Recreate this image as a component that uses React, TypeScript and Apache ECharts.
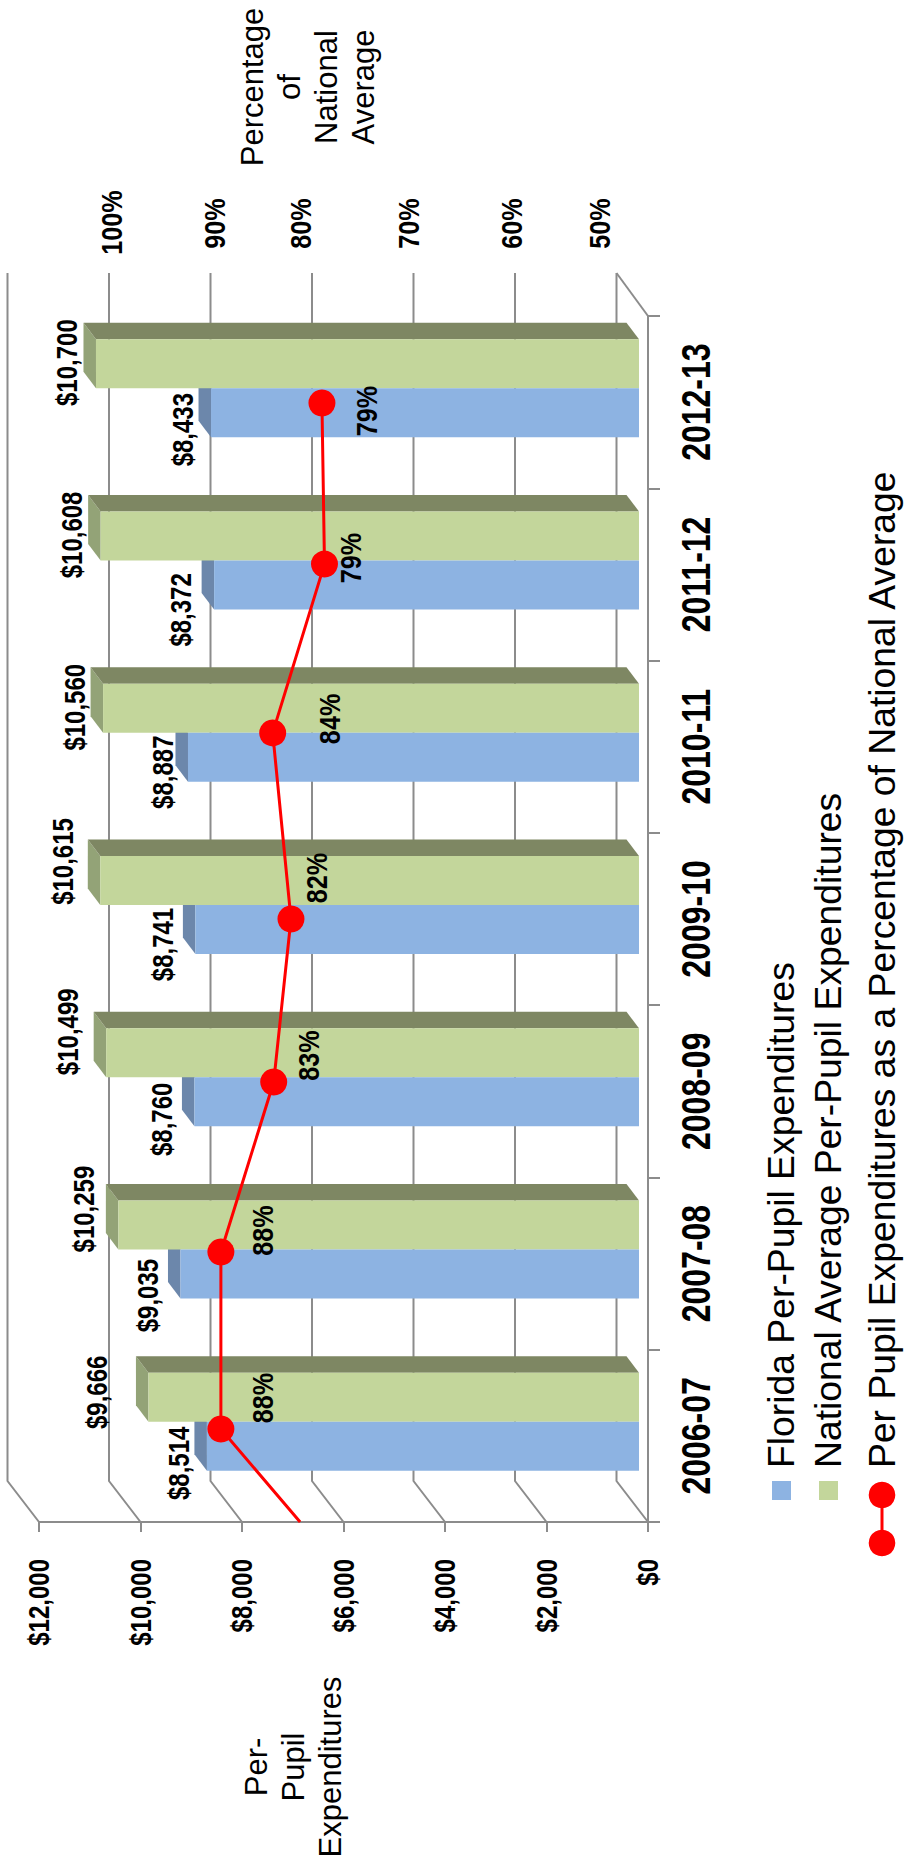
import React, { useEffect, useRef } from "react";
import * as echarts from "echarts";

const categories = ["2006-07", "2007-08", "2008-09", "2009-10", "2010-11", "2011-12", "2012-13"];
const floridaValues = [8514, 9035, 8760, 8741, 8887, 8372, 8433];
const nationalValues = [9666, 10259, 10499, 10615, 10560, 10608, 10700];
const percentLabels = ["88%", "88%", "83%", "82%", "84%", "79%", "79%"];
// the red line as drawn in the picture: percent scale reading, position along the years
const linePercent = [81.2, 89, 89, 83.8, 82.1, 83.9, 78.8, 79.05];
const linePosition = [0, 0.54, 1.567, 2.554, 3.5, 4.58, 5.56, 6.495];
const dollarTicks = [0, 2000, 4000, 6000, 8000, 10000, 12000];
const percentTicks = [100, 90, 80, 70, 60, 50];
const legendNames = [
  "Florida Per-Pupil Expenditures",
  "National Average Per-Pupil Expenditures",
  "Per Pupil Expenditures as a Percentage of National Average",
];

// layout only: hand-placed label nudges and text anchors
const nationalGap = [39, 22, 26.6, 25.7, 16.5, 16.6, 16.5];
const nationalDy = [-5, -16, -21, -19, -1, -1, -1];
const floridaGap = [15.5, 20, 20, 20, 13, 21.4, 16];
const floridaDy = [17, 21.5, 17.5, 15, 15, 25, 17];
const percentNudge = [[41.5, -31], [42, -21.5], [35, -26.5], [26, -41], [57, -14], [26, -6], [45, 8]];
const percentTickDx = [2.2, 3.6, -11.5, -5.4, -4.2, -17];
const percentTickY = [222.5, 223.5, 223.5, 223.5, 223.5, 223.5];

const GRID = "#8c8c8c";
const BLUE = "#8db3e2";
const GREEN = "#c3d69b";
const RED = "#ff0000";
const SANS = "'Liberation Sans', Arial, sans-serif";
const DX = 12.5;
const DY = 16.5;
const HALF = 49;

const vText = (
  text: string,
  x: number,
  y: number,
  size: number,
  weight: string,
  align: string,
  squeeze = 1,
  extra: any = {}
) => ({
  type: "text",
  x,
  y,
  rotation: Math.PI / 2,
  scaleX: squeeze,
  silent: true,
  style: {
    text,
    font: `${weight} ${size}px ${SANS}`,
    fill: "#000",
    align,
    textAlign: align,
    verticalAlign: "middle",
    textVerticalAlign: "middle",
    ...extra,
  },
});

const money = (v: number) => "$" + v.toLocaleString("en-US");

const depth = (side: "florida" | "national") => (_: any, api: any) => {
  const [x, yc] = api.coord([api.value(0), api.value(1)]);
  const [x0] = api.coord([0, api.value(1)]);
  const yTop = side === "national" ? yc - HALF : yc;
  const yBot = side === "national" ? yc : yc + HALF;
  const children: any[] = [
    {
      type: "polygon",
      shape: { points: [[x, yTop], [x - DX, yTop - DY], [x - DX, yBot - DY], [x, yBot]] },
      style: { fill: side === "national" ? "#93a377" : "#6c87ab" },
    },
  ];
  if (side === "national") {
    children.push({
      type: "polygon",
      shape: { points: [[x, yTop], [x - DX, yTop - DY], [x0 - DX, yTop - DY], [x0, yTop]] },
      style: { fill: "#7e8763" },
    });
  }
  return { type: "group", children };
};

const wallLines = (_: any, api: any) => {
  const v = api.value(0);
  const [x] = api.coord([v, 0]);
  const style = { stroke: GRID, lineWidth: 2, fill: "none" };
  const children: any[] = [
    { type: "polyline", shape: { points: [[x - 31.5, 273], [x - 31.5, 1481], [x, 1522]] }, style },
  ];
  if (v === 0) {
    children.push({ type: "polyline", shape: { points: [[x - 31.5, 273], [x, 316]] }, style });
  }
  return { type: "group", children };
};

const barLabels = (shift: number, gaps: number[], dys: number[]) => (params: any, api: any) => {
  const i = api.value(1);
  const v = api.value(0);
  const [x, yc] = api.coord([v, i]);
  return vText(money(v), x - DX - gaps[i], yc + shift + dys[i], 30, "bold", "center", 0.8);
};

const valueTickLabels = (_: any, api: any) => {
  const v = api.value(0);
  const [x] = api.coord([v, 0]);
  return vText(money(v), x, 1559, 30, "bold", "right", 0.8);
};

const categoryLabels = (_: any, api: any) => {
  const i = api.value(1);
  const [, y] = api.coord([0, i]);
  return vText(categories[i], 696, y, 40, "bold", "center", 0.8);
};

// marks of the percentage scale: kind 0 = label beside a point, kind 1 = tick label above the wall
const percentMarks = (_: any, api: any) => {
  const i = api.value(2);
  const [x, y] = api.coord([api.value(0), api.value(1)]);
  if (api.value(3) === 1) {
    return vText(api.value(0) + "%", x + percentTickDx[i], percentTickY[i], 30, "bold", "center", 0.84);
  }
  return vText(percentLabels[i], x + percentNudge[i][0], y + percentNudge[i][1], 30, "bold", "center", 0.84);
};

export default function App() {
  const ref = useRef<HTMLDivElement>(null);
  useEffect(() => {
    document.body.style.margin = "0";
    const chart = echarts.init(ref.current!, null, { renderer: "svg" });
    const hiddenX = { type: "value", inverse: true, show: false };
    chart.setOption({
      animation: false,
      backgroundColor: "#fff",
      grid: [
        { left: 39, width: 609, top: 316, height: 1206 },
        { left: 30, width: 609, top: 302, height: 1206 },
        { left: 7.6, width: 609.4, top: 316, height: 1206 },
      ],
      xAxis: [
        {
          type: "value",
          gridIndex: 0,
          inverse: true,
          position: "bottom",
          min: 0,
          max: 12000,
          interval: 2000,
          splitLine: { show: false },
          axisLine: { show: true, onZero: false, lineStyle: { color: GRID, width: 2 } },
          axisTick: { show: true, length: 10, lineStyle: { color: GRID, width: 2 } },
          axisLabel: { show: false },
        },
        { ...hiddenX, gridIndex: 1, min: 0, max: 12000 },
        { ...hiddenX, gridIndex: 2, min: 50, max: 110 },
      ],
      yAxis: [
        {
          type: "category",
          gridIndex: 0,
          position: "right",
          data: categories,
          axisLine: { show: true, onZero: false, lineStyle: { color: GRID, width: 2 } },
          axisTick: { show: true, length: 12, lineStyle: { color: GRID, width: 2 } },
          axisLabel: { show: false },
        },
        { type: "category", gridIndex: 1, show: false, data: categories },
        { type: "value", gridIndex: 2, show: false, min: 0, max: 7 },
      ],
      series: [
        {
          type: "custom",
          name: "Walls",
          silent: true,
          xAxisIndex: 0,
          yAxisIndex: 0,
          z: 1,
          data: dollarTicks.map((v) => [v, 0]),
          renderItem: wallLines,
        },
        {
          type: "custom",
          name: "Value tick labels",
          silent: true,
          xAxisIndex: 0,
          yAxisIndex: 0,
          z: 6,
          data: dollarTicks.map((v) => [v, 0]),
          renderItem: valueTickLabels,
        },
        {
          type: "custom",
          name: "Category labels",
          silent: true,
          xAxisIndex: 0,
          yAxisIndex: 0,
          z: 6,
          data: categories.map((_, i) => [0, i]),
          renderItem: categoryLabels,
        },
        {
          type: "custom",
          name: "Florida depth",
          silent: true,
          xAxisIndex: 1,
          yAxisIndex: 1,
          z: 2,
          data: floridaValues.map((v, i) => [v, i]),
          renderItem: depth("florida"),
        },
        {
          type: "custom",
          name: "National depth",
          silent: true,
          xAxisIndex: 1,
          yAxisIndex: 1,
          z: 2,
          data: nationalValues.map((v, i) => [v, i]),
          renderItem: depth("national"),
        },
        {
          type: "bar",
          name: legendNames[1],
          xAxisIndex: 1,
          yAxisIndex: 1,
          z: 3,
          barWidth: HALF,
          barGap: 0,
          itemStyle: { color: GREEN },
          data: nationalValues,
        },
        {
          type: "bar",
          name: legendNames[0],
          xAxisIndex: 1,
          yAxisIndex: 1,
          z: 3,
          barWidth: HALF,
          barGap: 0,
          itemStyle: { color: BLUE },
          data: floridaValues,
        },
        {
          type: "custom",
          name: "Florida labels",
          silent: true,
          xAxisIndex: 1,
          yAxisIndex: 1,
          z: 6,
          data: floridaValues.map((v, i) => [v, i]),
          renderItem: barLabels(HALF / 2, floridaGap, floridaDy),
        },
        {
          type: "custom",
          name: "National labels",
          silent: true,
          xAxisIndex: 1,
          yAxisIndex: 1,
          z: 6,
          data: nationalValues.map((v, i) => [v, i]),
          renderItem: barLabels(-HALF / 2, nationalGap, nationalDy),
        },
        {
          type: "line",
          name: legendNames[2],
          xAxisIndex: 2,
          yAxisIndex: 2,
          z: 5,
          symbol: "circle",
          symbolSize: 27,
          showAllSymbol: true,
          lineStyle: { color: RED, width: 3 },
          itemStyle: { color: RED },
          data: linePercent.map((p, i) =>
            i === 0 ? { value: [p, linePosition[i]], symbol: "none" } : { value: [p, linePosition[i]] }
          ),
        },
        {
          type: "custom",
          name: "Percentage labels",
          silent: true,
          xAxisIndex: 2,
          yAxisIndex: 2,
          z: 6,
          data: [
            ...percentLabels.map((_, i) => [linePercent[i + 1], linePosition[i + 1], i, 0]),
            ...percentTicks.map((v, i) => [v, 0, i, 1]),
          ],
          renderItem: percentMarks,
        },
      ],
      graphic: [
        vText("Percentage\nof\nNational\nAverage", 308, 87, 31, "normal", "center", 1, { lineHeight: 37 }),
        vText("Per-\nPupil\nExpenditures", 293, 1767, 31, "normal", "center", 1, { lineHeight: 37 }),
        { type: "rect", shape: { x: 772, y: 1481, width: 19, height: 19 }, style: { fill: BLUE } },
        { type: "rect", shape: { x: 819, y: 1481, width: 19, height: 19 }, style: { fill: GREEN } },
        { type: "line", shape: { x1: 882, y1: 1495, x2: 882, y2: 1543 }, style: { stroke: RED, lineWidth: 3 } },
        { type: "circle", shape: { cx: 882, cy: 1495, r: 13.3 }, style: { fill: RED } },
        { type: "circle", shape: { cx: 882, cy: 1543, r: 13.3 }, style: { fill: RED } },
        vText(legendNames[0], 781, 1468, 37.3, "normal", "left"),
        vText(legendNames[1], 827.5, 1468, 37.3, "normal", "left"),
        vText(legendNames[2], 882, 1468, 37.3, "normal", "left"),
      ],
    });
    return () => chart.dispose();
  }, []);
  return <div ref={ref} style={{ position: "absolute", left: 0, top: 0, width: 904, height: 1866 }} />;
}
